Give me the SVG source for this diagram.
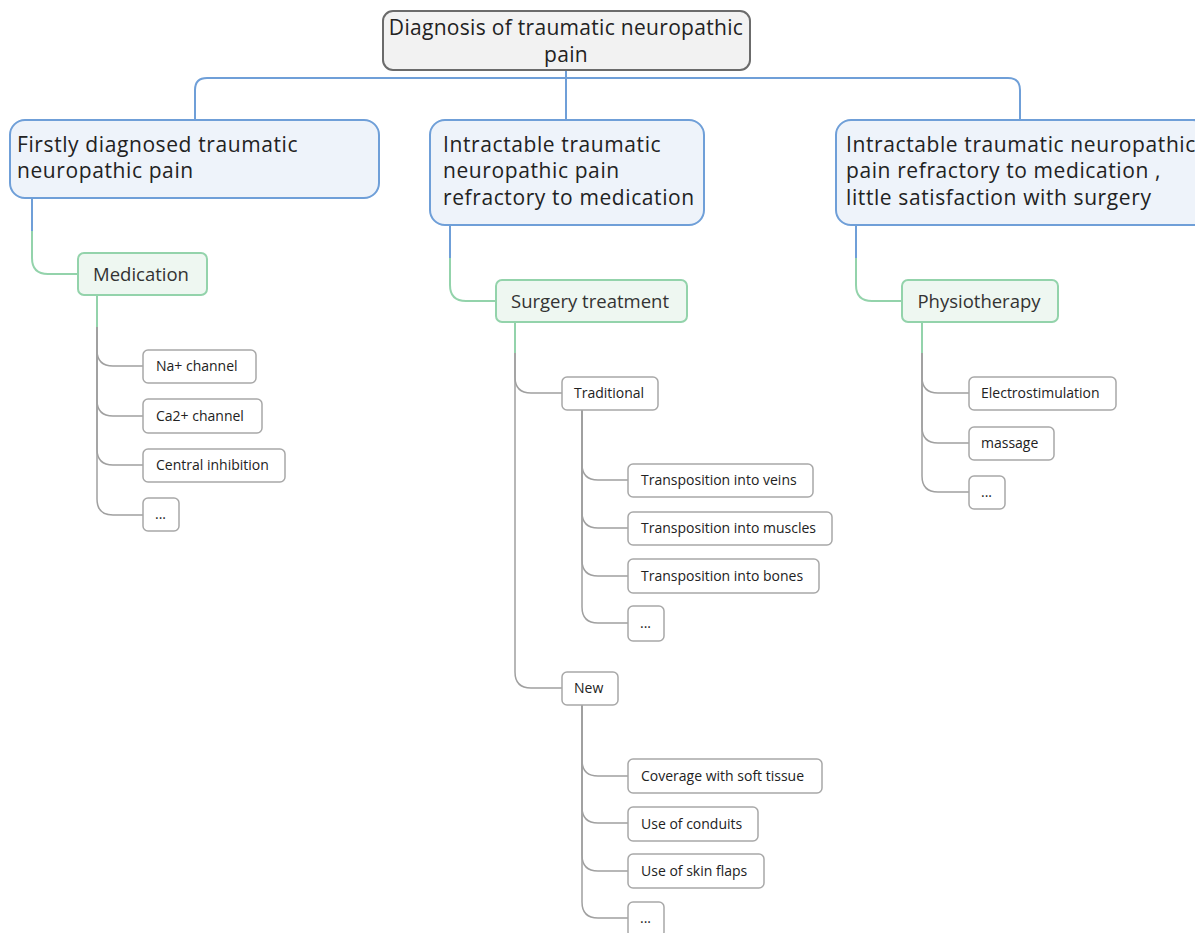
<svg xmlns="http://www.w3.org/2000/svg" width="1195" height="933" viewBox="0 0 1195 933">
<style>
.root{fill:#f2f2f2;stroke:#6b6b6b;stroke-width:2}
.main{fill:#eef3fa;stroke:#6f9fd8;stroke-width:2}
.sub{fill:#eef7f1;stroke:#93d3ab;stroke-width:2}
.leaf{fill:#ffffff;stroke:#a8a8a8;stroke-width:1.5}
.troot{font-family:"Open Sans","Noto Sans",sans-serif;font-size:21px;fill:#222;letter-spacing:0.3px}
.tbig{font-family:"Open Sans","Noto Sans",sans-serif;font-size:21px;fill:#222;letter-spacing:0.6px}
.tsub{font-family:"Open Sans","Noto Sans",sans-serif;font-size:18.5px;fill:#333}
.tleaf{font-family:"Open Sans","Noto Sans",sans-serif;font-size:14px;fill:#222}
.cb{fill:none;stroke:#6f9fd8;stroke-width:2}
.cg{fill:none;stroke:#93d3ab;stroke-width:2}
.cx{fill:none;stroke:#a0a0a0;stroke-width:1.5}
</style>
<g id="connectors">
<path class="cb" d="M566,70 L566,120"/>
<path class="cb" d="M195,120 L195,90 Q195,78 207,78 L1008,78 Q1020,78 1020,90 L1020,120"/>
<path class="cb" d="M32,198 L32,231"/>
<path class="cg" d="M32,231 L32,258 Q32,274 48,274 L78,274"/>
<path class="cb" d="M450,225 L450,258"/>
<path class="cg" d="M450,258 L450,285 Q450,301 466,301 L496,301"/>
<path class="cb" d="M856,225 L856,258"/>
<path class="cg" d="M856,258 L856,285 Q856,301 872,301 L902,301"/>
<path class="cg" d="M97,295 L97,327"/>
<path class="cx" d="M97,327 L97,350 Q97,366 113,366 L143,366"/>
<path class="cx" d="M97,327 L97,400 Q97,416 113,416 L143,416"/>
<path class="cx" d="M97,327 L97,449 Q97,465 113,465 L143,465"/>
<path class="cx" d="M97,327 L97,499 Q97,515 113,515 L143,515"/>
<path class="cg" d="M515,322 L515,353"/>
<path class="cx" d="M515,353 L515,377 Q515,393 531,393 L562,393"/>
<path class="cx" d="M515,353 L515,672 Q515,688 531,688 L562,688"/>
<path class="cx" d="M582,410 L582,464 Q582,480 598,480 L628,480"/>
<path class="cx" d="M582,410 L582,512 Q582,528 598,528 L628,528"/>
<path class="cx" d="M582,410 L582,560 Q582,576 598,576 L628,576"/>
<path class="cx" d="M582,410 L582,607 Q582,623 598,623 L628,623"/>
<path class="cx" d="M582,705 L582,760 Q582,776 598,776 L628,776"/>
<path class="cx" d="M582,705 L582,807 Q582,823 598,823 L628,823"/>
<path class="cx" d="M582,705 L582,855 Q582,871 598,871 L628,871"/>
<path class="cx" d="M582,705 L582,902 Q582,918 598,918 L628,918"/>
<path class="cg" d="M922,322 L922,353"/>
<path class="cx" d="M922,353 L922,377 Q922,393 938,393 L969,393"/>
<path class="cx" d="M922,353 L922,427 Q922,443 938,443 L969,443"/>
<path class="cx" d="M922,353 L922,476 Q922,492 938,492 L969,492"/>
</g>
<g id="root">
<rect class="root" x="383" y="11" width="367" height="59" rx="10"/>
<text class="troot" x="566" y="35" text-anchor="middle">Diagnosis of traumatic neuropathic</text>
<text class="troot" x="566" y="62" text-anchor="middle">pain</text>
</g>
<g id="n1">
<rect class="main" x="10" y="120" width="369" height="78" rx="15"/>
<text class="tbig" x="17" y="152">Firstly diagnosed traumatic</text>
<text class="tbig" x="17" y="178">neuropathic pain</text>
</g>
<g id="n2">
<rect class="main" x="430" y="120" width="274" height="105" rx="15"/>
<text class="tbig" x="443" y="152">Intractable traumatic</text>
<text class="tbig" x="443" y="178">neuropathic pain</text>
<text class="tbig" x="443" y="205">refractory to medication</text>
</g>
<g id="n3">
<rect class="main" x="836" y="120" width="372" height="105" rx="15"/>
<text class="tbig" x="846" y="152">Intractable traumatic neuropathic</text>
<text class="tbig" x="846" y="178">pain refractory to medication ,</text>
<text class="tbig" x="846" y="205">little satisfaction with surgery</text>
</g>
<g id="medication">
<rect class="sub" x="78" y="253" width="129" height="42" rx="6"/>
<text class="tsub" x="141" y="281" text-anchor="middle">Medication</text>
</g>
<g id="surgery">
<rect class="sub" x="496" y="280" width="191" height="42" rx="6"/>
<text class="tsub" x="590" y="308" text-anchor="middle">Surgery treatment</text>
</g>
<g id="physio">
<rect class="sub" x="902" y="280" width="156" height="42" rx="6"/>
<text class="tsub" x="979" y="308" text-anchor="middle">Physiotherapy</text>
</g>
<g id="na"><rect class="leaf" x="143" y="350" width="113" height="33" rx="5"/><text class="tleaf" x="156" y="371">Na+ channel</text></g>
<g id="ca"><rect class="leaf" x="143" y="399" width="119" height="34" rx="5"/><text class="tleaf" x="156" y="421">Ca2+ channel</text></g>
<g id="central"><rect class="leaf" x="143" y="449" width="142" height="33" rx="5"/><text class="tleaf" x="156" y="470">Central inhibition</text></g>
<g id="med-more"><rect class="leaf" x="143" y="498" width="36" height="33" rx="5"/><text class="tleaf" x="155" y="519">...</text></g>
<g id="traditional"><rect class="leaf" x="562" y="377" width="96" height="33" rx="5"/><text class="tleaf" x="574" y="398">Traditional</text></g>
<g id="new"><rect class="leaf" x="562" y="672" width="56" height="33" rx="5"/><text class="tleaf" x="574" y="693">New</text></g>
<g id="veins"><rect class="leaf" x="628" y="464" width="185" height="33" rx="5"/><text class="tleaf" x="641" y="485">Transposition into veins</text></g>
<g id="muscles"><rect class="leaf" x="628" y="512" width="204" height="33" rx="5"/><text class="tleaf" x="641" y="533">Transposition into muscles</text></g>
<g id="bones"><rect class="leaf" x="628" y="559" width="191" height="34" rx="5"/><text class="tleaf" x="641" y="581">Transposition into bones</text></g>
<g id="trad-more"><rect class="leaf" x="628" y="606" width="36" height="35" rx="5"/><text class="tleaf" x="640" y="628">...</text></g>
<g id="soft"><rect class="leaf" x="628" y="759" width="194" height="34" rx="5"/><text class="tleaf" x="641" y="781">Coverage with soft tissue</text></g>
<g id="conduits"><rect class="leaf" x="628" y="807" width="130" height="34" rx="5"/><text class="tleaf" x="641" y="829">Use of conduits</text></g>
<g id="flaps"><rect class="leaf" x="628" y="854" width="136" height="34" rx="5"/><text class="tleaf" x="641" y="876">Use of skin flaps</text></g>
<g id="new-more"><rect class="leaf" x="628" y="902" width="36" height="35" rx="5"/><text class="tleaf" x="640" y="923">...</text></g>
<g id="electro"><rect class="leaf" x="969" y="377" width="147" height="33" rx="5"/><text class="tleaf" x="981" y="398">Electrostimulation</text></g>
<g id="massage"><rect class="leaf" x="969" y="427" width="85" height="33" rx="5"/><text class="tleaf" x="981" y="448">massage</text></g>
<g id="physio-more"><rect class="leaf" x="969" y="476" width="36" height="33" rx="5"/><text class="tleaf" x="981" y="497">...</text></g>
</svg>
